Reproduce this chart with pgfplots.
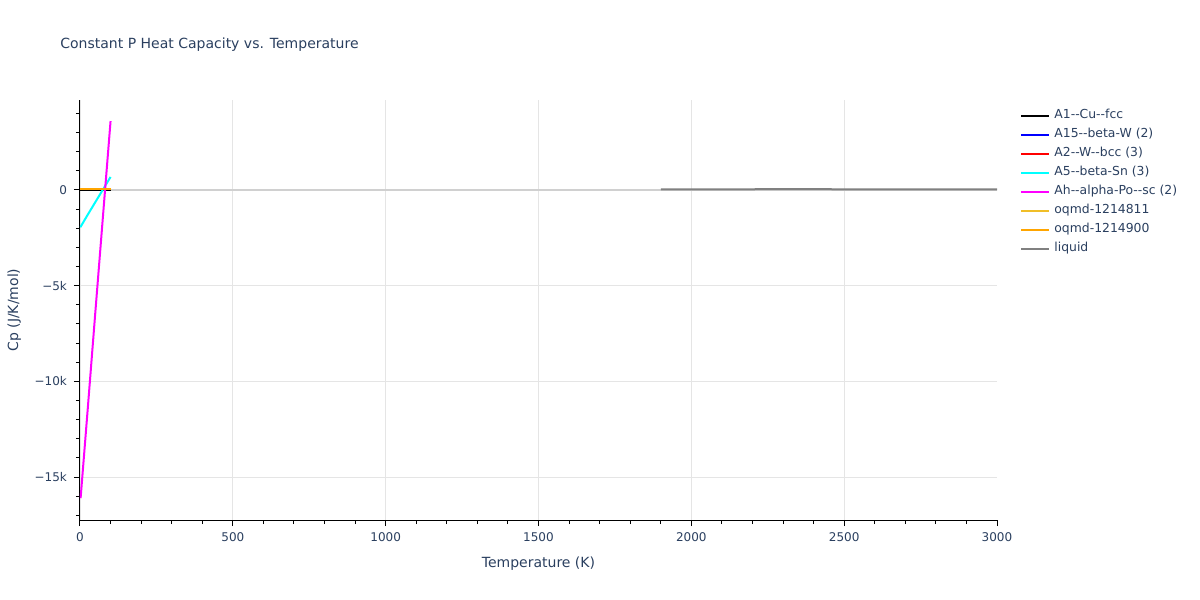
\documentclass[border=0pt]{standalone}
\usepackage{pgfplots}
\pgfplotsset{compat=1.18}
\usepackage{fontspec}
\setmainfont{DejaVu Sans}
\definecolor{txt}{HTML}{2A3F5F}
\definecolor{gridc}{HTML}{E5E5E5}
\definecolor{zeroc}{HTML}{D0D0D0}
\definecolor{gold}{RGB}{240,190,40}
\definecolor{orng}{RGB}{255,165,0}
\definecolor{liq}{RGB}{128,128,128}
\definecolor{cyn}{RGB}{0,255,255}
\definecolor{mag}{RGB}{255,0,255}
\definecolor{blu}{RGB}{0,0,255}
\definecolor{rd}{RGB}{255,0,0}
\newcommand{\dd}{-{}-}
\begin{document}
\begin{tikzpicture}
\begin{axis}[
  at={(0pt,0pt)}, anchor=south west,
  scale only axis, width=458.5pt, height=210pt,
  xmin=0, xmax=3000, ymin=-17240, ymax=4700,
  axis lines*=left,
  axis line style={black, line width=0.5pt},
  xtick={0,500,1000,1500,2000,2500},
  extra x ticks={3000},
  extra x tick style={grid=none},
  minor xtick={100,200,...,2900},
  ytick={-15000,-10000,-5000,0},
  yticklabels={−15k,−10k,−5k,0},
  minor ytick={-17000,-16000,...,4000},
  tick align=outside,
  major tick length=3pt, minor tick length=2pt,
  tick style={black, line width=0.5pt},
  grid=major,
  major grid style={gridc, line width=0.6pt},
  minor grid style={draw=none},
  /pgf/number format/assume math mode=true,
  /pgf/number format/1000 sep={},
  scaled ticks=false,
  xticklabel style={font=\fontsize{6}{7}\selectfont, text=txt},
  yticklabel style={font=\fontsize{6}{7}\selectfont, text=txt},
  xlabel={Temperature (K)},
  ylabel={Cp (J/K/mol)},
  xlabel style={font=\fontsize{7}{8}\selectfont, text=txt, at={(axis description cs:0.5,0)}, yshift=-15pt},
  ylabel style={font=\fontsize{7}{8}\selectfont, text=txt, at={(axis description cs:0,0.5)}, yshift=26pt},
  legend style={at={(467pt,209.5pt)}, anchor=north west, draw=none, fill=none,
    font=\fontsize{6.2}{7}\selectfont, text=txt, cells={anchor=west},
    row sep=-0.7pt},
  legend image code/.code={\draw[#1, line width=1pt] (0pt,0pt) -- (14pt,0pt);},
  clip=true,
]
\addplot[zeroc, line width=1pt, forget plot] coordinates {(0,0) (3000,0)};
\addplot[black, line width=1pt] coordinates {(1,20) (100,20)};
\addlegendentry{A1\dd Cu\dd fcc}
\addplot[blu, line width=1pt] coordinates {(1,25) (100,25)};
\addlegendentry{A15\dd beta-W (2)}
\addplot[rd, line width=1pt] coordinates {(1,30) (100,30)};
\addlegendentry{A2\dd W\dd bcc (3)}
\addplot[cyn, line width=1pt] coordinates {(1,-1950) (25,-1300) (50,-640) (75,20) (100,680)};
\addlegendentry{A5\dd beta-Sn (3)}
\addplot[mag, line width=1pt] coordinates {(2,-16100) (25,-11500) (50,-6420) (75,-1400) (100,3600)};
\addlegendentry{Ah\dd alpha-Po\dd sc (2)}
\addplot[gold, line width=1pt] coordinates {(1,40) (100,40)};
\addlegendentry{oqmd-1214811}
\addplot[orng, line width=1pt] coordinates {(1,50) (100,50)};
\addlegendentry{oqmd-1214900}
\addplot[liq, line width=1pt] coordinates {(1900,30) (2100,35) (2300,40) (2420,45) (2500,30) (2700,30) (3000,30)};
\addlegendentry{liquid}
\end{axis}
\node[anchor=west, inner sep=0pt, font=\fontsize{7}{8}\selectfont, text=txt] at (-10pt,237.5pt) {Constant P Heat Capacity vs. Temperature};
\path (-40pt,-40pt) rectangle (560pt,260pt);
\end{tikzpicture}
\end{document}
